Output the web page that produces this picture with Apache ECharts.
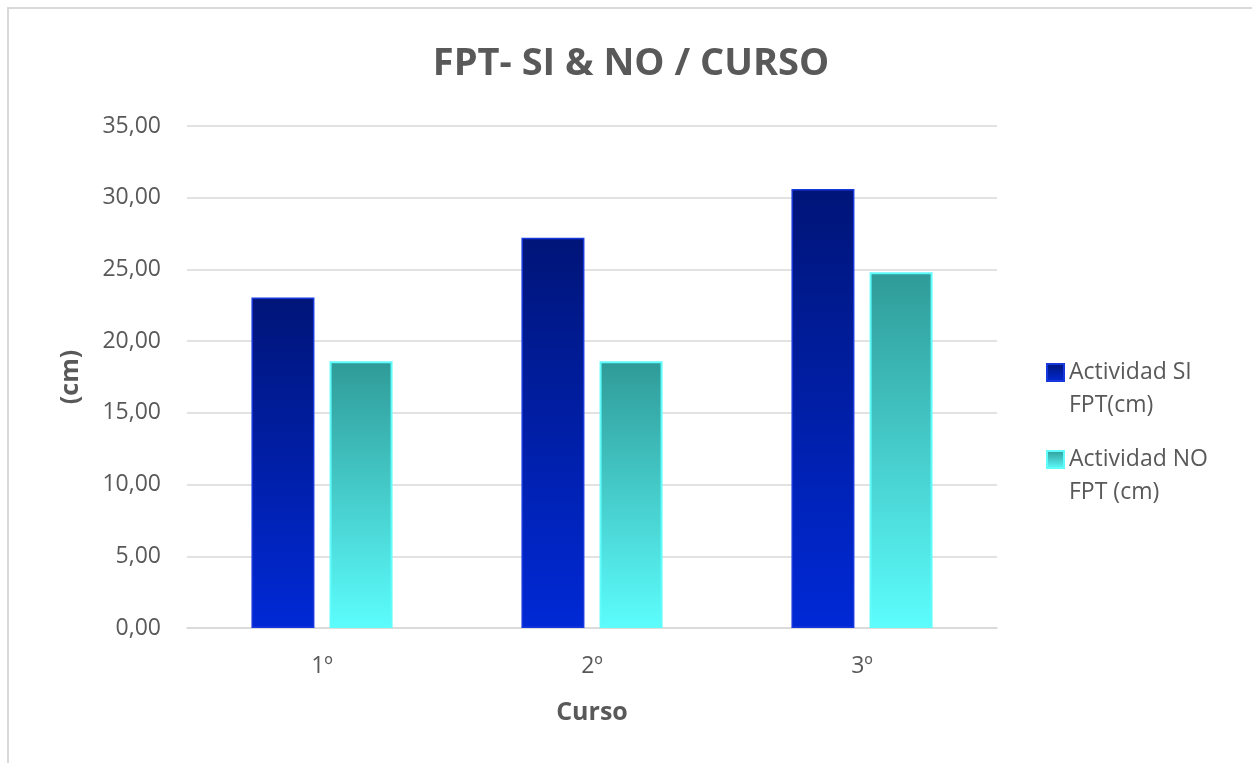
<!DOCTYPE html>
<html>
<head>
<meta charset="utf-8">
<script src="https://cdn.jsdelivr.net/npm/echarts@6/dist/echarts.min.js"></script>
<style>html,body{margin:0;padding:0;background:#fff;}#c{width:1252px;height:763px;}</style>
</head>
<body>
<div id="c"></div>
<script>
const categories = ['1º', '2º', '3º'];
const seriesNames = ['Actividad SI\nFPT(cm)', 'Actividad NO\nFPT (cm)'];
const siValues = [23.05, 27.2, 30.6];
const noValues = [18.6, 18.6, 24.8];
const yTicks = { min: 0, max: 35, interval: 5 };

const chart = echarts.init(document.getElementById('c'));
const font = '"Open Sans", "Noto Sans", sans-serif';
const gradSI = new echarts.graphic.LinearGradient(0, 0, 0, 1, [
  { offset: 0, color: '#001578' }, { offset: 1, color: '#0029d6' }]);
const gradNO = new echarts.graphic.LinearGradient(0, 0, 0, 1, [
  { offset: 0, color: '#2f9b98' }, { offset: 1, color: '#5cfdfd' }]);
const legendCommon = {
  orient: 'vertical', left: 1041, itemWidth: 17, itemHeight: 17, icon: 'rect', itemGap: 5,
  formatter: n => '\n' + n,
  textStyle: { fontFamily: font, fontSize: 23, color: '#595959', lineHeight: 33 }
};
chart.setOption({
  animation: false,
  graphic: [{ type: 'rect', shape: { x: 8, y: 8, width: 1400, height: 900 },
    style: { fill: 'none', stroke: '#d9d9d9', lineWidth: 2 } }],
  title: { text: 'FPT- SI & NO / CURSO', left: 626, top: 40, textAlign: 'center',
    textStyle: { fontFamily: font, fontSize: 38, fontWeight: 'bold', color: '#595959' } },
  legend: [
    Object.assign({ top: 318, data: [seriesNames[0]] }, legendCommon),
    Object.assign({ top: 405, data: [seriesNames[1]] }, legendCommon)
  ],
  grid: { left: 187, right: 255, top: 126, bottom: 135, containLabel: false },
  xAxis: { type: 'category', data: categories,
    name: 'Curso', nameLocation: 'middle', nameGap: 72,
    nameTextStyle: { fontFamily: font, fontSize: 25, fontWeight: 'bold', color: '#595959' },
    axisLine: { lineStyle: { color: '#d9d9d9', width: 1.5 } }, axisTick: { show: false },
    axisLabel: { fontFamily: font, fontSize: 23, color: '#595959', margin: 27 } },
  yAxis: { type: 'value', min: yTicks.min, max: yTicks.max, interval: yTicks.interval,
    name: '(cm)', nameLocation: 'middle', nameGap: 104, nameRotate: 90,
    nameTextStyle: { fontFamily: font, fontSize: 25, fontWeight: 'bold', color: '#595959' },
    axisLine: { show: false }, axisTick: { show: false },
    splitLine: { lineStyle: { color: '#d9d9d9', width: 1.5 } },
    axisLabel: { fontFamily: font, fontSize: 23, color: '#595959', margin: 26,
      formatter: v => v.toFixed(2).replace('.', ',') } },
  series: [
    { name: seriesNames[0], type: 'bar', data: siValues, barWidth: 63, barGap: '24%',
      itemStyle: { color: gradSI, borderColor: '#1638dc', borderWidth: 1.5 } },
    { name: seriesNames[1], type: 'bar', data: noValues, barWidth: 63,
      itemStyle: { color: gradNO, borderColor: '#5ffcfc', borderWidth: 2 } }
  ]
});
</script>
</body>
</html>
